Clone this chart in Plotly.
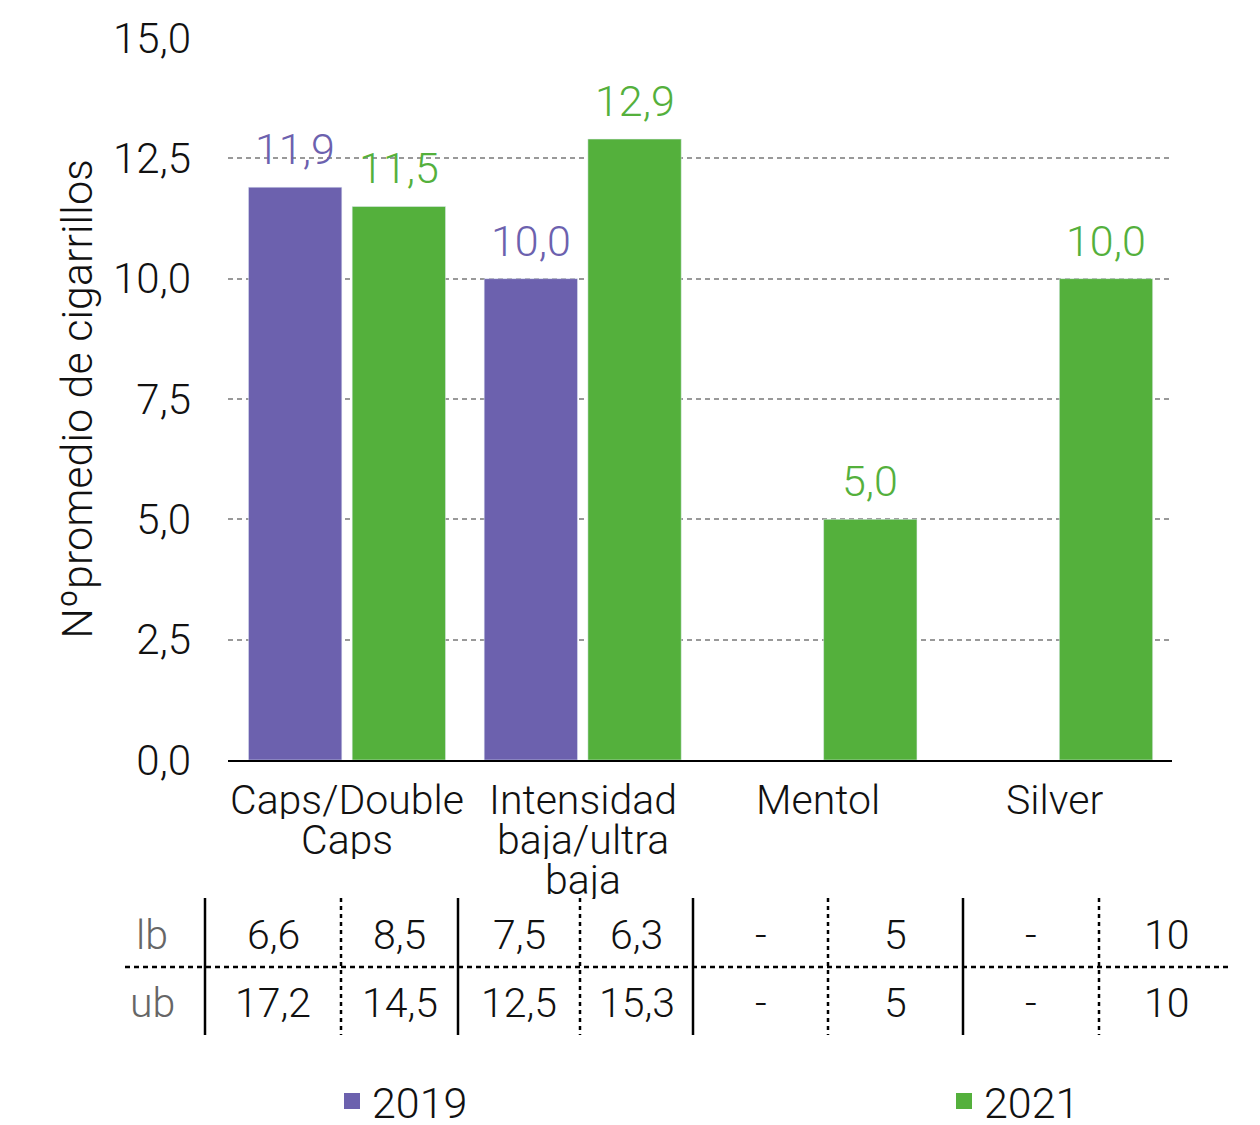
import plotly.graph_objects as go

# ---------------- data ----------------
categories = ["Caps/Double Caps", "Intensidad baja/ultra baja", "Mentol", "Silver"]
category_lines = [["Caps/Double", "Caps"], ["Intensidad", "baja/ultra", "baja"], ["Mentol"], ["Silver"]]
series_names = ["2019", "2021"]
values_2019 = [11.9, 10.0, None, None]
values_2021 = [11.5, 12.9, 5.0, 10.0]
lb_2019 = ["6,6", "7,5", "-", "-"]
lb_2021 = ["8,5", "6,3", "5", "10"]
ub_2019 = ["17,2", "12,5", "-", "-"]
ub_2021 = ["14,5", "15,3", "5", "10"]
row_labels = ["lb", "ub"]
y_tickvals = [0, 2.5, 5, 7.5, 10, 12.5, 15]
y_title = "Nºpromedio de cigarrillos"

# ---------------- style ----------------
PURPLE = "#6C61AE"
GREEN = "#54B03C"
FONT = "Roboto"
WEIGHT = 300
OFF = 8                      # page body margin
W, H = 1260 - OFF, 1125 - OFF
PL, PT, PR, PB = 228, 38, 1172, 760   # plot area in page pixels
L, T = PL - OFF, PT - OFF
PW, PH = PR - PL, PB - PT
R, B = W - L - PW, H - T - PH


def px_x(p):
    return (p - PL) / PW


def px_y(p):
    return (PB - p) / PH


def fnt(size, color="#111111"):
    return dict(family=FONT, size=size, color=color, weight=WEIGHT)


fig = go.Figure()
fig.add_trace(go.Bar(x=categories, y=values_2019, name=series_names[0],
                     marker_color=PURPLE, showlegend=False))
fig.add_trace(go.Bar(x=categories, y=values_2021, name=series_names[1],
                     marker_color=GREEN, showlegend=False))
# legend entries (square swatches)
fig.add_trace(go.Scatter(x=[None], y=[None], mode="markers", name=series_names[0],
                         marker=dict(symbol="square", size=19, color=PURPLE),
                         legend="legend"))
fig.add_trace(go.Scatter(x=[None], y=[None], mode="markers", name=series_names[1],
                         marker=dict(symbol="square", size=19, color=GREEN),
                         legend="legend2"))

annotations = []
# value labels
for vals, color, shift in [(values_2019, PURPLE, -52), (values_2021, GREEN, 52)]:
    for c, v in zip(categories, vals):
        if v is None:
            continue
        annotations.append(dict(
            x=c, y=v, xref="x", yref="y", xshift=shift, yshift=11,
            text=f"{v:.1f}".replace(".", ","), showarrow=False, yanchor="bottom",
            font=fnt(43, color)))

# category labels (one annotation per line for tight spacing)
line_centers = [800, 840, 880]
for c, lines in zip(categories, category_lines):
    for i, t in enumerate(lines):
        annotations.append(dict(
            x=c, y=px_y(line_centers[i]), xref="x", yref="paper", text=t,
            showarrow=False, yanchor="middle", height=38, font=fnt(41)))

# table below
bounds = [205, 341, 458, 580, 693, 828, 963, 1099, 1233]
row_y = [935, 1003]
rows = [[lb_2019, lb_2021], [ub_2019, ub_2021]]
for ry, lab, (r19, r21) in zip(row_y, row_labels, rows):
    annotations.append(dict(
        x=px_x(152), y=px_y(ry), xref="paper", yref="paper", text=lab,
        showarrow=False, yanchor="middle", xanchor="center", font=fnt(41, "#666666")))
    cells = []
    for a, b in zip(r19, r21):
        cells += [a, b]
    for k, t in enumerate(cells):
        cx = (bounds[k] + bounds[k + 1]) / 2
        annotations.append(dict(
            x=px_x(cx), y=px_y(ry), xref="paper", yref="paper", text=t,
            showarrow=False, yanchor="middle", xanchor="center", font=fnt(41)))

shapes = []
for k, bx in enumerate(bounds[:-1]):
    solid = (k % 2 == 0)
    shapes.append(dict(
        type="line", xref="paper", yref="paper",
        x0=px_x(bx), x1=px_x(bx), y0=px_y(898), y1=px_y(1035),
        line=dict(color="black", width=2.5, dash="solid" if solid else "4px,4px")))
shapes.append(dict(
    type="line", xref="paper", yref="paper",
    x0=px_x(125), x1=px_x(1230), y0=px_y(967), y1=px_y(967),
    line=dict(color="black", width=2.5, dash="5px,4px")))

fig.update_layout(
    width=W, height=H, autosize=False,
    margin=dict(l=L, r=R, t=T, b=B, pad=0, autoexpand=False),
    paper_bgcolor="white", plot_bgcolor="white",
    separators=",.",
    barmode="group", bargap=0.12, bargroupgap=0.1,
    font=fnt(41),
    xaxis=dict(showticklabels=False, ticks="", showline=True, linecolor="black",
               linewidth=2, showgrid=False, zeroline=False),
    yaxis=dict(range=[0, 15], tickvals=y_tickvals, tickformat=".1f",
               showgrid=True, gridcolor="#999999", gridwidth=2, griddash="5px,4px",
               zeroline=False, showline=False, ticks="", ticklabelstandoff=36,
               tickfont=fnt(42),
               title=dict(text=y_title, standoff=6, font=fnt(43))),
    showlegend=True,
    legend=dict(orientation="h", x=px_x(332), xanchor="left", y=px_y(1101),
                yanchor="middle", font=fnt(43), itemsizing="trace",
                bgcolor="rgba(0,0,0,0)", borderwidth=0),
    legend2=dict(orientation="h", x=px_x(944), xanchor="left", y=px_y(1101),
                 yanchor="middle", font=fnt(43), itemsizing="trace",
                 bgcolor="rgba(0,0,0,0)", borderwidth=0),
    annotations=annotations,
    shapes=shapes,
)

fig.write_html("out.html")
